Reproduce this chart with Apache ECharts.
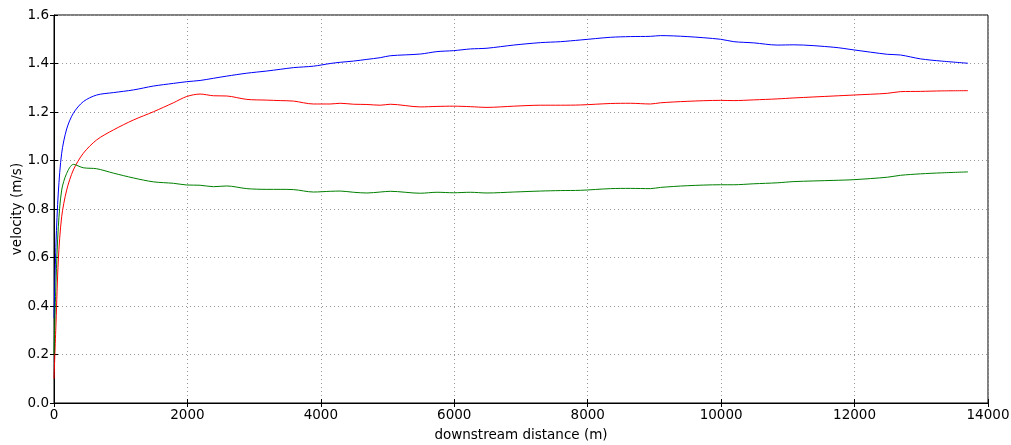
<!DOCTYPE html>
<html>
<head>
<meta charset="utf-8">
<script src="https://cdn.jsdelivr.net/npm/echarts@6/dist/echarts.min.js"></script>
<style>
  html, body { margin: 0; padding: 0; background: #fff; }
  #chart { width: 1011px; height: 445px; }
</style>
</head>
<body>
<div id="chart"></div>
<script>
// downstream distance (m), shared by all three profiles
const distance = [0, 30, 65, 115, 190, 290, 440, 640, 890, 1190, 1490, 1790, 1990, 2190, 2390, 2590,
  2890, 3190, 3390, 3590, 3890, 4140, 4290, 4490, 4690, 4890, 5040, 5490, 5740, 5990, 6240, 6490,
  6890, 7290, 7590, 7890, 8340, 8640, 8940, 9090, 9490, 9990, 10190, 10490, 10840, 11090, 11690, 11990,
  12490, 12690, 12990, 13300, 13700];

const blueVel = [0.35, 0.66, 0.87, 1.03, 1.13, 1.195, 1.243, 1.27, 1.28, 1.291, 1.307, 1.318, 1.325, 1.33, 1.339, 1.348,
  1.36, 1.369, 1.376, 1.383, 1.389, 1.40, 1.405, 1.41, 1.417, 1.424, 1.432, 1.439, 1.449, 1.453, 1.46, 1.463,
  1.476, 1.486, 1.49, 1.497, 1.508, 1.511, 1.512, 1.515, 1.511, 1.50, 1.49, 1.485, 1.476, 1.477, 1.467, 1.456,
  1.438, 1.435, 1.419, 1.41, 1.401];

const redVel = [0.1, 0.33, 0.59, 0.768, 0.878, 0.961, 1.03, 1.085, 1.126, 1.167, 1.201, 1.238, 1.264, 1.274, 1.267, 1.266,
  1.252, 1.249, 1.247, 1.245, 1.233, 1.233, 1.236, 1.232, 1.231, 1.228, 1.232, 1.221, 1.223, 1.224, 1.222, 1.219,
  1.224, 1.228, 1.228, 1.229, 1.235, 1.236, 1.233, 1.238, 1.244, 1.248, 1.247, 1.25, 1.254, 1.258, 1.266, 1.27,
  1.277, 1.284, 1.285, 1.287, 1.288];

const greenVel = [0.2, 0.5, 0.727, 0.878, 0.947, 0.984, 0.97, 0.966, 0.948, 0.928, 0.912, 0.906, 0.899, 0.898, 0.892, 0.895,
  0.884, 0.881, 0.881, 0.880, 0.870, 0.873, 0.874, 0.869, 0.866, 0.870, 0.873, 0.865, 0.869, 0.867, 0.869, 0.866,
  0.870, 0.874, 0.876, 0.877, 0.884, 0.885, 0.884, 0.889, 0.896, 0.90, 0.900, 0.904, 0.908, 0.913, 0.918, 0.921,
  0.931, 0.939, 0.945, 0.949, 0.953];

const chart = echarts.init(document.getElementById('chart'));

const pairs = vals => distance.map((d, i) => [d, vals[i]]);
const font = 'DejaVu Sans';
const fs = 13.5;

const line = (vals, color) => ({
  type: 'line',
  data: pairs(vals),
  showSymbol: false,
  smooth: 0.3,
  lineStyle: { color: color, width: 1 },
  animation: false
});

const mirror = {
  axisLine: { show: false },
  axisTick: { show: true, inside: true, length: 4, lineStyle: { color: '#000' } },
  axisLabel: { show: false },
  splitLine: { show: false }
};

const option = {
  animation: false,
  grid: {
    left: 54, right: 23, top: 15, bottom: 42,
    outerBoundsMode: 'none', containLabel: false,
    show: true, borderColor: '#000', borderWidth: 1, backgroundColor: '#fff'
  },
  xAxis: [{
    type: 'value', min: 0, max: 14000, interval: 2000,
    name: 'downstream distance (m)', nameLocation: 'middle', nameGap: 25,
    nameTextStyle: { fontFamily: font, fontSize: fs, color: '#000' },
    axisLine: { show: true, lineStyle: { color: '#000' } },
    axisTick: { show: true, inside: true, length: 4, lineStyle: { color: '#000' } },
    axisLabel: { fontFamily: font, fontSize: fs, color: '#000', margin: 5, formatter: v => String(v) },
    splitLine: { show: true, lineStyle: { color: '#999', type: [1, 3], width: 1 } }
  }, Object.assign({ type: 'value', position: 'top', min: 0, max: 14000, interval: 2000 }, mirror)],
  yAxis: [{
    type: 'value', min: 0, max: 1.6, interval: 0.2,
    name: 'velocity (m/s)', nameLocation: 'middle', nameGap: 30, nameMoveOverlap: false,
    nameTextStyle: { fontFamily: font, fontSize: fs, color: '#000' },
    axisLine: { show: true, lineStyle: { color: '#000' } },
    axisTick: { show: true, inside: true, length: 4, lineStyle: { color: '#000' } },
    axisLabel: { fontFamily: font, fontSize: fs, color: '#000', margin: 5, formatter: v => v.toFixed(1) },
    splitLine: { show: true, lineStyle: { color: '#999', type: [1, 3], width: 1 } }
  }, Object.assign({ type: 'value', position: 'right', min: 0, max: 1.6, interval: 0.2 }, mirror)],
  series: [
    line(blueVel, '#0000ff'),
    line(redVel, '#ff0000'),
    line(greenVel, '#008000')
  ]
};

chart.setOption(option);
</script>
</body>
</html>
